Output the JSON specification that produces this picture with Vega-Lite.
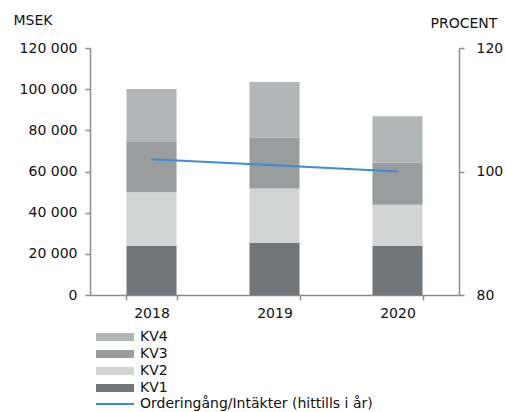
{
  "$schema": "https://vega.github.io/schema/vega-lite/v6.json",
  "width": 369,
  "height": 247,
  "autosize": {"type": "none"},
  "padding": {"left": 90, "top": 48, "right": 47, "bottom": 117},
  "config": {
    "view": {"stroke": null},
    "font": "DejaVu Sans",
    "locale": {"number": {"decimal": ",", "thousands": " ", "grouping": [3], "currency": ["", " kr"]}},
    "axis": {"labelFont": "DejaVu Sans", "labelFontSize": 14, "labelColor": "#111", "titleFont": "DejaVu Sans", "titleFontSize": 14, "titleFontWeight": "normal", "titleColor": "#111", "domainColor": "#8a8c8e", "tickColor": "#8a8c8e", "domainWidth": 1.5, "tickWidth": 1.5, "grid": false},
    "legend": {"labelFont": "DejaVu Sans", "labelFontSize": 14, "labelColor": "#111", "padding": 0, "labelLimit": 400}
  },
  "data": {"values": [
    {"year": "2018", "kv": "KV1", "msek": 23800},
    {"year": "2018", "kv": "KV2", "msek": 26100},
    {"year": "2018", "kv": "KV3", "msek": 24400},
    {"year": "2018", "kv": "KV4", "msek": 25800},
    {"year": "2019", "kv": "KV1", "msek": 25300},
    {"year": "2019", "kv": "KV2", "msek": 26400},
    {"year": "2019", "kv": "KV3", "msek": 24800},
    {"year": "2019", "kv": "KV4", "msek": 27000},
    {"year": "2020", "kv": "KV1", "msek": 23800},
    {"year": "2020", "kv": "KV2", "msek": 20100},
    {"year": "2020", "kv": "KV3", "msek": 20300},
    {"year": "2020", "kv": "KV4", "msek": 22700},
    {"year": "2018", "kv": "line", "pct": 102.0},
    {"year": "2019", "kv": "line", "pct": 101.0},
    {"year": "2020", "kv": "line", "pct": 100.0}
  ]},
  "encoding": {
    "x": {
      "field": "year", "type": "nominal", "title": null,
      "scale": {"paddingInner": 0.593, "paddingOuter": 0.2967},
      "axis": {"labelAngle": 0, "tickBand": "extent", "tickSize": 5, "labelPadding": 6}
    }
  },
  "layer": [
    {
      "transform": [{"filter": "datum.kv != 'line'"}],
      "mark": {"type": "bar"},
      "encoding": {
        "y": {
          "field": "msek", "type": "quantitative", "stack": "zero",
          "scale": {"domain": [0, 120000], "nice": false},
          "axis": {"values": [0, 20000, 40000, 60000, 80000, 100000, 120000], "format": ",d", "tickSize": 5, "labelPadding": 8, "title": "MSEK", "titleAngle": 0, "titleAlign": "left", "titleBaseline": "middle", "titleX": -77, "titleY": -28}
        },
        "color": {
          "field": "kv", "type": "nominal",
          "scale": {"domain": ["KV4", "KV3", "KV2", "KV1"], "range": ["#b3b6b7", "#9a9d9e", "#d3d5d5", "#737679"]},
          "legend": {"title": null, "orient": "none", "legendX": 18, "legendY": 282, "symbolType": "M-4.75,-1H4.75V1H-4.75Z", "symbolSize": 64, "symbolStrokeWidth": 0, "rowPadding": 3, "labelOffset": 18}
        },
        "order": {"field": "kv", "sort": "ascending"}
      }
    },
    {
      "transform": [{"filter": "datum.kv == 'line'"}],
      "mark": {"type": "line", "strokeWidth": 2},
      "encoding": {
        "y": {
          "field": "pct", "type": "quantitative",
          "scale": {"domain": [80, 120], "nice": false},
          "axis": {"orient": "right", "values": [80, 100, 120], "tickSize": 5, "labelPadding": 12, "title": "PROCENT", "titleAngle": 0, "titleAlign": "left", "titleBaseline": "middle", "titleX": -29, "titleY": -25}
        },
        "stroke": {
          "datum": "Orderingång/Intäkter (hittills i år)",
          "scale": {"range": ["#3d8bd6"]},
          "legend": {"title": null, "orient": "none", "legendX": 18, "legendY": 349, "symbolType": "M-4.75,0H4.75", "symbolSize": 64, "symbolStrokeWidth": 1.8, "labelOffset": 18}
        }
      }
    }
  ],
  "resolve": {"scale": {"y": "independent"}}
}
